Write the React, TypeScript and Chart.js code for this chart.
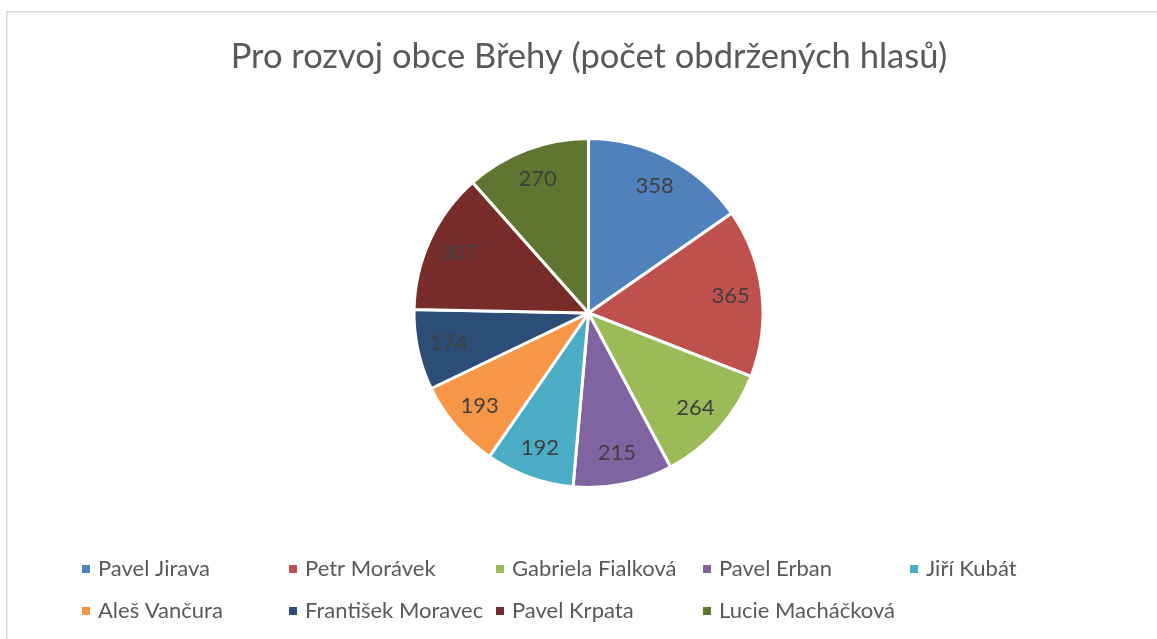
import React, { useEffect, useRef } from "react";
import { Chart, registerables } from "chart.js";

Chart.register(...registerables);

const TITLE = "Pro rozvoj obce Břehy (počet obdržených hlasů)";
const candidates = [
  "Pavel Jirava",
  "Petr Morávek",
  "Gabriela Fialková",
  "Pavel Erban",
  "Jiří Kubát",
  "Aleš Vančura",
  "František Moravec",
  "Pavel Krpata",
  "Lucie Macháčková",
];
const votes = [358, 365, 264, 215, 192, 193, 174, 307, 270];
const colors = [
  "#4F81BD",
  "#C0504D",
  "#9BBB59",
  "#8064A2",
  "#4BACC6",
  "#F79646",
  "#2C4D75",
  "#772C2A",
  "#5F7530",
];

const FONT = "Lato, 'Open Sans', sans-serif";
const W = 1157;
const H = 639;

const framePlugin = {
  id: "frame",
  beforeDraw(chart: any) {
    const ctx = chart.ctx;
    ctx.save();
    ctx.fillStyle = "#FFFFFF";
    ctx.fillRect(0, 0, W, H);
    ctx.strokeStyle = "#D9D9D9";
    ctx.lineWidth = 1.5;
    ctx.strokeRect(6.75, 11.75, W + 20, H + 20);
    ctx.font = `34.5px ${FONT}`;
    ctx.fillStyle = "#595959";
    ctx.textAlign = "center";
    ctx.textBaseline = "middle";
    ctx.fillText(TITLE, 589, 57);
    ctx.restore();
  },
};

const labelPlugin = {
  id: "sliceLabels",
  afterDatasetsDraw(chart: any) {
    const ctx = chart.ctx;
    const meta = chart.getDatasetMeta(0);
    const data = chart.data.datasets[0].data;
    ctx.save();
    ctx.font = `22px ${FONT}`;
    ctx.fillStyle = "#404040";
    ctx.textAlign = "center";
    ctx.textBaseline = "middle";
    meta.data.forEach((arc: any, i: number) => {
      const { x, y, startAngle, endAngle, outerRadius } = arc.getProps(
        ["x", "y", "startAngle", "endAngle", "outerRadius"],
        true
      );
      const mid = (startAngle + endAngle) / 2;
      const d = outerRadius * 0.82;
      ctx.fillText(String(data[i]), x + Math.cos(mid) * d, y + Math.sin(mid) * d);
    });
    ctx.restore();
  },
};

const legendPlugin = {
  id: "gridLegend",
  afterDraw(chart: any) {
    const ctx = chart.ctx;
    const labels = chart.data.labels as string[];
    const bg = chart.data.datasets[0].backgroundColor as string[];
    const cols = 5;
    const startX = 82;
    const colW = 207;
    const rowY = [569, 611];
    ctx.save();
    ctx.font = `22px ${FONT}`;
    ctx.textBaseline = "middle";
    ctx.textAlign = "left";
    labels.forEach((lab, i) => {
      const c = i % cols;
      const r = Math.floor(i / cols);
      const bx = startX + c * colW;
      const by = rowY[r];
      ctx.fillStyle = bg[i];
      ctx.fillRect(bx, by - 4, 8, 8);
      ctx.fillStyle = "#595959";
      ctx.fillText(lab, bx + 16, by);
    });
    ctx.restore();
  },
};

export default function App() {
  const ref = useRef<HTMLCanvasElement | null>(null);
  useEffect(() => {
    document.body.style.margin = "0";
    if (!ref.current) return;
    const chart = new Chart(ref.current, {
      type: "pie",
      data: {
        labels: candidates,
        datasets: [
          {
            data: votes,
            backgroundColor: colors,
            borderColor: "#FFFFFF",
            borderWidth: 3,
          },
        ],
      },
      options: {
        animation: false,
        responsive: false,
        layout: { padding: { top: 137, bottom: 150, left: 412, right: 392 } },
        plugins: {
          legend: { display: false },
          tooltip: { enabled: false },
          title: { display: false },
        },
      },
      plugins: [framePlugin, labelPlugin, legendPlugin],
    });
    return () => chart.destroy();
  }, []);
  return (
    <canvas
      ref={ref}
      width={W}
      height={H}
      style={{ display: "block", width: W, height: H }}
    />
  );
}
